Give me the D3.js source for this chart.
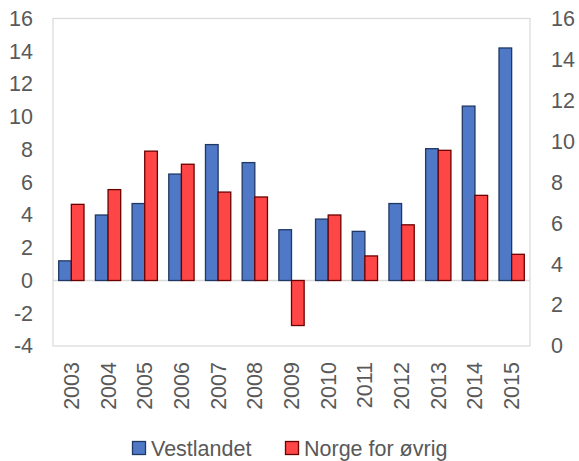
<!DOCTYPE html>
<html>
<head>
<meta charset="utf-8">
<script src="https://cdn.jsdelivr.net/npm/d3@7"></script>
<style>
  body { margin: 0; background: #fff; }
  text { font-family: "Liberation Sans", Arial, sans-serif; fill: #595959; }
</style>
</head>
<body>
<svg id="chart"></svg>
<script>
const years = ["2003", "2004", "2005", "2006", "2007", "2008", "2009", "2010", "2011", "2012", "2013", "2014", "2015"];
const vestlandet = [1.2, 4.0, 4.7, 6.5, 8.3, 7.2, 3.1, 3.75, 3.0, 4.7, 8.05, 10.65, 14.2];
const norgeOvrig = [4.65, 5.55, 7.9, 7.1, 5.4, 5.1, -2.75, 4.0, 1.5, 3.4, 7.95, 5.2, 1.6];
const seriesNames = ["Vestlandet", "Norge for øvrig"];
const leftTicks = [-4, -2, 0, 2, 4, 6, 8, 10, 12, 14, 16];
const rightTicks = [0, 2, 4, 6, 8, 10, 12, 14, 16];

const WIDTH = 579, HEIGHT = 461;
const plot = { left: 53, right: 530, top: 18.5, bottom: 346 };
const FONT = "21.5px";

const fills = ["#4F78C6", "#FF4647"];
const strokes = ["#1F3864", "#6B0000"];

const svg = d3.select("#chart")
    .attr("width", WIDTH)
    .attr("height", HEIGHT);

const x = d3.scaleBand()
    .domain(years)
    .range([plot.left, plot.right]);

const inner = d3.scaleBand()
    .domain([0, 1])
    .range([0, x.bandwidth()])
    .paddingOuter(0.45)
    .paddingInner(0);

const y = d3.scaleLinear()
    .domain([-4, 16])
    .range([plot.bottom, plot.top]);

// right axis just relabels the same height 0..16
const y2 = d3.scaleLinear()
    .domain([0, 16])
    .range([plot.bottom, plot.top]);

// plot frame
svg.append("rect")
    .attr("x", plot.left)
    .attr("y", plot.top)
    .attr("width", plot.right - plot.left)
    .attr("height", plot.bottom - plot.top)
    .style("fill", "none")
    .style("stroke", "#D9D9D9")
    .style("stroke-width", 1.2);

// plain hyphen for negatives, like the original
const fmt = d => String(d);

svg.append("g")
    .attr("transform", `translate(${plot.left},0)`)
    .call(d3.axisLeft(y).tickValues(leftTicks).tickFormat(fmt).tickSize(0).tickPadding(20))
    .call(g => g.select(".domain").remove())
    .selectAll("text")
    .style("font-size", FONT)
    .style("fill", "#595959")
    .style("font-family", "Liberation Sans, Arial, sans-serif");

svg.append("g")
    .attr("transform", `translate(${plot.right},0)`)
    .call(d3.axisRight(y2).tickValues(rightTicks).tickFormat(fmt).tickSize(0).tickPadding(21))
    .call(g => g.select(".domain").remove())
    .selectAll("text")
    .style("font-size", FONT)
    .style("fill", "#595959")
    .style("font-family", "Liberation Sans, Arial, sans-serif");

// zero line
svg.append("line")
    .attr("x1", plot.left)
    .attr("x2", plot.right)
    .attr("y1", y(0))
    .attr("y2", y(0))
    .style("stroke", "#D9D9D9")
    .style("stroke-width", 1.5);

const rows = years.map((yr, i) => ({ year: yr, values: [vestlandet[i], norgeOvrig[i]] }));

const groups = svg.selectAll("g.year")
    .data(rows)
    .enter()
    .append("g")
    .attr("class", "year")
    .attr("transform", d => `translate(${x(d.year)},0)`);

groups.selectAll("rect")
    .data(d => d.values.map((v, k) => ({ v, k })))
    .enter()
    .append("rect")
    .attr("x", d => inner(d.k))
    .attr("width", inner.bandwidth())
    .attr("y", d => y(Math.max(0, d.v)))
    .attr("height", d => Math.abs(y(d.v) - y(0)))
    .style("fill", d => fills[d.k])
    .style("stroke", d => strokes[d.k])
    .style("stroke-width", 1.3);

// rotated year labels
svg.selectAll("text.year")
    .data(years)
    .enter()
    .append("text")
    .attr("class", "year")
    .attr("transform", d => `translate(${x(d) + x.bandwidth() / 2 + 7.5},362) rotate(-90)`)
    .attr("text-anchor", "end")
    .style("font-size", FONT)
    .text(d => d);

// legend
const legendX = [132, 285];
const legend = svg.selectAll("g.legend")
    .data(seriesNames)
    .enter()
    .append("g")
    .attr("class", "legend")
    .attr("transform", (d, i) => `translate(${legendX[i]},0)`);

legend.append("rect")
    .attr("x", 0.5)
    .attr("y", 441.5)
    .attr("width", 13)
    .attr("height", 13)
    .style("fill", (d, i) => fills[i])
    .style("stroke", (d, i) => strokes[i])
    .style("stroke-width", 1.3);

legend.append("text")
    .attr("x", 19)
    .attr("y", 455.5)
    .style("font-size", FONT)
    .text(d => d);
</script>
</body>
</html>
